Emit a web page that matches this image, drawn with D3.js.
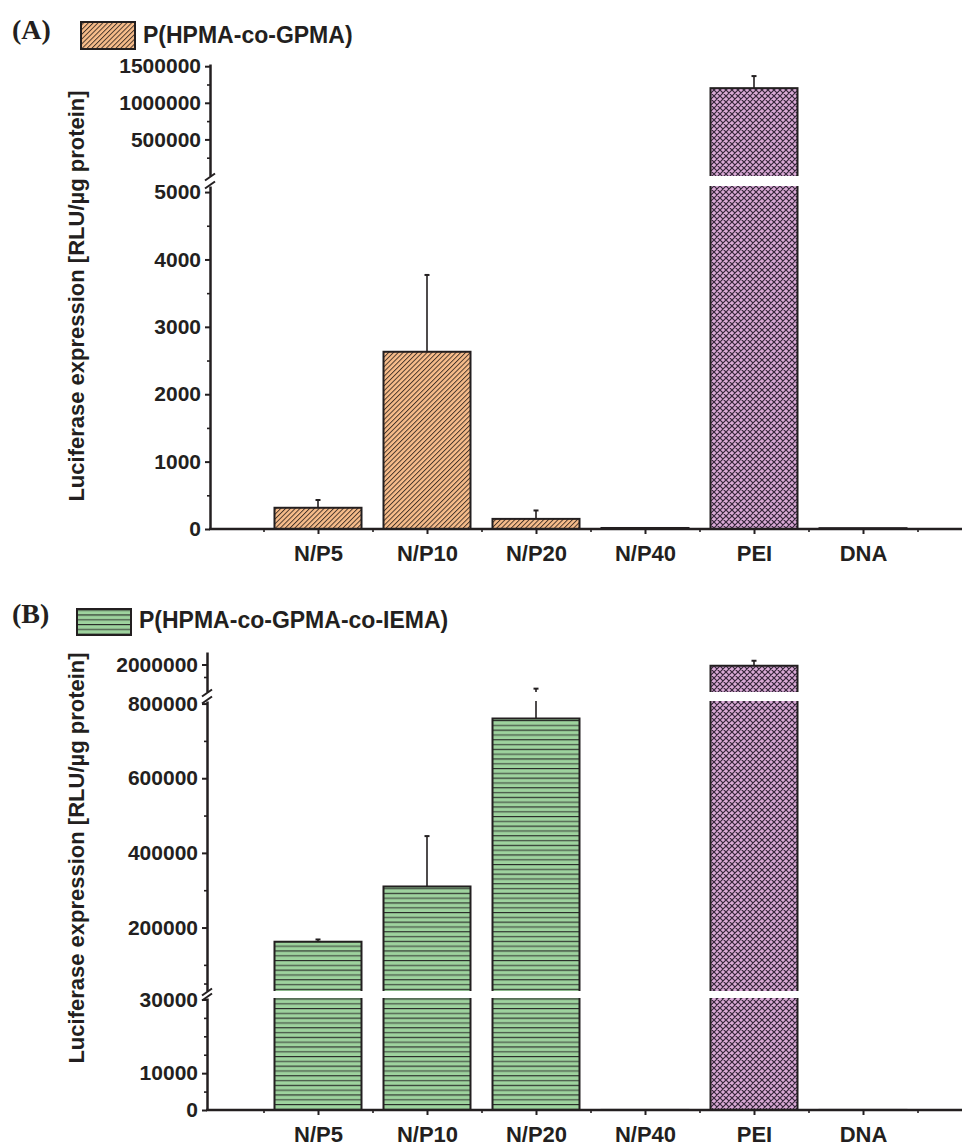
<!DOCTYPE html>
<html>
<head>
<meta charset="utf-8">
<script src="https://cdn.jsdelivr.net/npm/d3@7"></script>
<style>
  body { margin: 0; background: #fff; }
  svg text { font-family: "Liberation Sans", Arial, sans-serif; font-weight: bold; fill: #231f20; }
</style>
</head>
<body>
<div id="chart"></div>
<script>
// values
const categories = ['N/P5', 'N/P10', 'N/P20', 'N/P40', 'PEI', 'DNA'];
const fills = ['hatch', 'hatch', 'hatch', 'hatch', 'cross', 'cross'];
const fillsB = ['lines', 'lines', 'lines', 'lines', 'cross', 'cross'];

const valuesA = [315, 2630, 150, 15, 1200000, 12];
const errorsA = [115, 1140, 125, 0, 165000, 0];
const valuesB = [162000, 310000, 760000, 20, 1990000, 20];
const errorsB = [6000, 135000, 80000, 0, 40000, 0];

const ticksAUpper = [500000, 1000000, 1500000];
const minorAUpper = [250000, 750000, 1250000];
const ticksALower = [0, 1000, 2000, 3000, 4000, 5000];
const minorALower = [500, 1500, 2500, 3500, 4500];
const ticksBUpper = [2000000];
const minorBUpper = [1900000];
const ticksBMid = [200000, 400000, 600000, 800000];
const minorBMid = [50000, 100000, 300000, 500000, 700000];
const ticksBLower = [0, 10000, 30000];
const minorBLower = [5000, 15000, 20000, 25000];

const w = 962, h = 1147;
const ink = '#231f20';

let svg = d3.select('#chart').append('svg')
            .attr('width', w)
            .attr('height', h);
let defs = svg.append('defs');

// fill patterns
let hatch = defs.append('pattern')
                .attr('id', 'hatch')
                .attr('patternUnits', 'userSpaceOnUse')
                .attr('width', 3.4).attr('height', 3.4)
                .attr('patternTransform', 'rotate(45)');
    hatch.append('rect').attr('width', 3.4).attr('height', 3.4).attr('fill', '#f8bd8b');
    hatch.append('line').attr('x1', 0.5).attr('y1', 0).attr('x2', 0.5).attr('y2', 3.4)
         .attr('stroke', '#3b2b22').attr('stroke-width', 0.9);

let lines = defs.append('pattern')
                .attr('id', 'lines')
                .attr('patternUnits', 'userSpaceOnUse')
                .attr('width', 10).attr('height', 9.6);
    lines.append('rect').attr('width', 10).attr('height', 9.6).attr('fill', '#9ed39e');
    lines.append('line').attr('x1', 0).attr('x2', 10).attr('y1', 0.6).attr('y2', 0.6)
         .attr('stroke', '#222').attr('stroke-width', 1.1);
    lines.append('line').attr('x1', 0).attr('x2', 10).attr('y1', 5.4).attr('y2', 5.4)
         .attr('stroke', '#4f604f').attr('stroke-width', 1.4);

let cross = defs.append('pattern')
                .attr('id', 'cross')
                .attr('patternUnits', 'userSpaceOnUse')
                .attr('width', 6).attr('height', 6);
    cross.append('rect').attr('width', 6).attr('height', 6).attr('fill', '#d9a9d5');
    cross.append('path')
         .attr('d', 'M0,0L6,6M6,0L0,6M-1,5L1,7M5,-1L7,1M-1,1L1,-1M5,7L7,5')
         .attr('stroke', '#35263a').attr('stroke-width', 1.2);

const x = d3.scaleLinear().domain([0, 7]).range([209, 972]);
const bw = 87;

function drawPanel(p) {
  let g = svg.append('g');
  let nSeg = p.segs.length;
  let baseline = p.segs[nSeg - 1].range[0];

  p.segs.forEach((s, si) => {
    let y = d3.scaleLinear().domain(s.domain).range(s.range);
    let lowest = si === nSeg - 1;
    // a bar shows in an upper segment only if it is taller than the segment below
    let floor = lowest ? -Infinity : p.segs[si + 1].domain[1];
    let clipId = p.id + 'clip' + si;
    defs.append('clipPath').attr('id', clipId)
        .append('rect')
        .attr('x', 0).attr('y', s.clip[0])
        .attr('width', w).attr('height', s.clip[1] - s.clip[0]);

    let rows = p.values.map((v, i) => ({ v: v, e: p.errors[i], i: i }))
                       .filter(d => d.v > floor);

    g.append('g')
     .attr('clip-path', 'url(#' + clipId + ')')
     .selectAll('rect')
     .data(rows)
     .enter()
     .append('rect')
     .attr('x', d => x(d.i + 1) - bw / 2)
     .attr('width', bw)
     .attr('y', d => y(d.v))
     .attr('height', d => (lowest ? y(0) : s.range[0] + 10) - y(d.v))
     .attr('fill', d => 'url(#' + p.fills[d.i] + ')')
     .attr('stroke', ink)
     .attr('stroke-width', 2);

    // error bars, drawn in the segment holding the bar top
    let errs = rows.filter(d => d.e > 0 && d.v <= s.domain[1]);
    let eg = g.append('g').attr('class', 'err');
    eg.selectAll('line.v')
      .data(errs).enter().append('line')
      .attr('x1', d => x(d.i + 1)).attr('x2', d => x(d.i + 1))
      .attr('y1', d => y(d.v)).attr('y2', d => y(d.v + d.e))
      .attr('stroke', ink).attr('stroke-width', 1.6);
    eg.selectAll('line.c')
      .data(errs).enter().append('line')
      .attr('x1', d => x(d.i + 1) - 2.5).attr('x2', d => x(d.i + 1) + 2.5)
      .attr('y1', d => y(d.v + d.e)).attr('y2', d => y(d.v + d.e))
      .attr('stroke', ink).attr('stroke-width', 2);
    s.y = y;
  });

  // white gaps at the axis breaks
  for (let k = 0; k < nSeg - 1; k++) {
    let top = p.segs[k].range[0], bot = p.segs[k + 1].range[1];
    g.append('rect')
     .attr('x', p.axisX + 2).attr('y', top)
     .attr('width', w - p.axisX).attr('height', bot - top)
     .attr('fill', '#fff');
  }

  // y axes
  p.segs.forEach(s => {
    let ax = g.append('g')
              .attr('transform', 'translate(' + p.axisX + ',0)')
              .attr('color', ink)
              .call(d3.axisLeft(s.y).tickValues(s.major).tickSize(5).tickSizeOuter(0)
                      .tickPadding(4).tickFormat(d3.format('d')));
    ax.select('.domain').attr('stroke-width', 2.5);
    ax.selectAll('.tick line').attr('stroke-width', 2);
    ax.selectAll('.tick text').style('font-size', '21px');
    let mn = g.append('g')
              .attr('transform', 'translate(' + p.axisX + ',0)')
              .attr('color', ink)
              .call(d3.axisLeft(s.y).tickValues(s.minor).tickSize(3).tickFormat(''));
    mn.select('.domain').remove();
    mn.selectAll('.tick line').attr('stroke-width', 1.6);
  });

  // break marks
  for (let k = 0; k < nSeg - 1; k++) {
    [p.segs[k].range[0] + 1, p.segs[k + 1].range[1] - 1].forEach(yy => {
      g.append('line')
       .attr('x1', p.axisX - 5).attr('y1', yy + 3.5)
       .attr('x2', p.axisX + 5).attr('y2', yy - 3.5)
       .attr('stroke', ink).attr('stroke-width', 2);
    });
  }

  // x axis
  g.append('line')
   .attr('x1', p.axisX - 1).attr('x2', w)
   .attr('y1', baseline).attr('y2', baseline)
   .attr('stroke', ink).attr('stroke-width', 2.5);
  let xa = g.append('g')
            .attr('transform', 'translate(0,' + baseline + ')')
            .attr('color', ink)
            .call(d3.axisBottom(x).tickValues([1, 2, 3, 4, 5, 6]).tickSize(5)
                    .tickPadding(p.labelPad).tickFormat(i => categories[i - 1]));
  xa.select('.domain').remove();
  xa.selectAll('.tick line').attr('stroke-width', 2);
  xa.selectAll('.tick text').style('font-size', '22px');
  let xm = g.append('g')
            .attr('transform', 'translate(0,' + baseline + ')')
            .attr('color', ink)
            .call(d3.axisBottom(x).tickValues([0.5, 1.5, 2.5, 3.5, 4.5, 5.5, 6.5]).tickSize(3).tickFormat(''));
  xm.select('.domain').remove();
  xm.selectAll('.tick line').attr('stroke-width', 1.6);

  // y title
  g.append('text')
   .attr('transform', 'translate(84,' + p.titleY + ') rotate(-90)')
   .attr('text-anchor', 'middle')
   .style('font-size', '22px')
   .text('Luciferase expression [RLU/µg protein]');

  // panel letter
  g.append('text')
   .attr('x', 12).attr('y', p.letterY)
   .style('font-family', '"Liberation Serif", "Times New Roman", serif')
   .style('font-size', '28px')
   .text(p.letter);

  // legend
  g.append('rect')
   .attr('x', p.legend[0]).attr('y', p.legend[1])
   .attr('width', 54).attr('height', p.legend[2])
   .attr('fill', 'url(#' + p.fills[0] + ')')
   .attr('stroke', ink).attr('stroke-width', 2);
  g.append('text')
   .attr('x', p.legend[0] + 62).attr('y', p.legend[3])
   .style('font-size', '23px')
   .text(p.name);
}

drawPanel({
  id: 'a', letter: '(A)', letterY: 39, name: 'P(HPMA-co-GPMA)',
  legend: [81, 22, 27, 43],
  values: valuesA, errors: errorsA, fills: fills,
  axisX: 210, labelPad: 11, titleY: 296,
  segs: [
    { domain: [0, 1530000], range: [176, 64], clip: [0, 176], major: ticksAUpper, minor: minorAUpper },
    { domain: [0, 5090], range: [529, 186], clip: [186, 560], major: ticksALower, minor: minorALower }
  ]
});

drawPanel({
  id: 'b', letter: '(B)', letterY: 623, name: 'P(HPMA-co-GPMA-co-IEMA)',
  legend: [77, 609, 26, 628],
  values: valuesB, errors: errorsB, fills: fillsB,
  axisX: 207, labelPad: 11, titleY: 858,
  segs: [
    { domain: [1780000, 2100000], range: [692, 652], clip: [0, 692], major: ticksBUpper, minor: minorBUpper },
    { domain: [30000, 806900], range: [991, 701], clip: [701, 991], major: ticksBMid, minor: minorBMid },
    { domain: [0, 30400], range: [1110, 998], clip: [998, 1140], major: ticksBLower, minor: minorBLower }
  ]
});
</script>
</body>
</html>
